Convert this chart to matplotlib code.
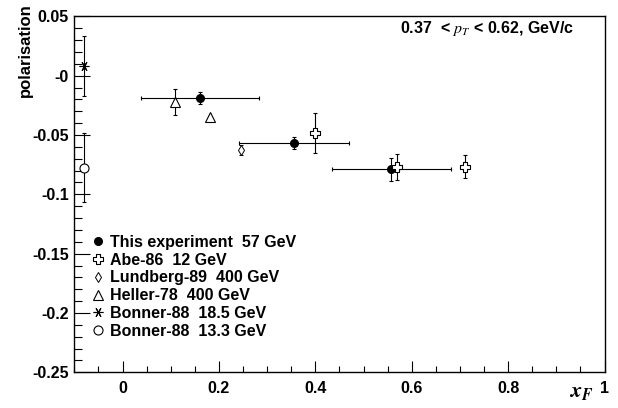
import matplotlib
matplotlib.use("Agg")
import matplotlib.pyplot as plt
from matplotlib.path import Path
from matplotlib.lines import Line2D
from matplotlib.ticker import FixedLocator, MultipleLocator

plt.rcParams['font.family'] = ['Liberation Sans', 'DejaVu Sans']
plt.rcParams['mathtext.fontset'] = 'stix'

# ---- data ----
this_x = [0.161, 0.355, 0.558]
this_y = [-0.019, -0.0565, -0.079]
this_xerr = [0.122, 0.114, 0.124]
this_yerr = [0.005, 0.005, 0.010]

abe_x = [0.400, 0.570, 0.710]
abe_y = [-0.0486, -0.0767, -0.0767]
abe_yerr = [0.017, 0.011, 0.0095]

lund_x = [0.2465]
lund_y = [-0.0627]
lund_yerr = [0.004]

heller_x = [0.109, 0.181]
heller_y = [-0.022, -0.0346]
heller_yerr = [0.011, 0.0]

bon185_x = [-0.08]
bon185_y = [0.0081]
bon185_yerr = [0.0253]

bon133_x = [-0.08]
bon133_y = [-0.0776]
bon133_yerr = [0.029]

labels = ["This experiment  57 GeV", "Abe-86  12 GeV", "Lundberg-89  400 GeV",
          "Heller-78  400 GeV", "Bonner-88  18.5 GeV", "Bonner-88  13.3 GeV"]

xticks = [0, 0.2, 0.4, 0.6, 0.8, 1.0]
xticklabels = ["0", "0.2", "0.4", "0.6", "0.8", "1"]
yticks = [0.05, 0.0, -0.05, -0.1, -0.15, -0.2, -0.25]
yticklabels = ["0.05", "-0", "-0.05", "-0.1", "-0.15", "-0.2", "-0.25"]

# open cross marker
t = 0.32
cross_verts = [(-t, 1), (t, 1), (t, t), (1, t), (1, -t), (t, -t), (t, -1), (-t, -1),
               (-t, -t), (-1, -t), (-1, t), (-t, t), (-t, 1)]
cross = Path(cross_verts, [Path.MOVETO] + [Path.LINETO] * 11 + [Path.CLOSEPOLY])

W, H = 618, 408
fig = plt.figure(figsize=(W / 100, H / 100), dpi=100)
ax = fig.add_axes([74.3 / W, 1 - 372.3 / H, (604.5 - 74.3) / W, (372.3 - 16.3) / H])

eb = dict(ecolor='black', elinewidth=0.8, capsize=1.6, capthick=0.8, linestyle='none', zorder=3)

styles = [
    dict(marker='o', ms=5.5, mfc='black', mec='black'),
    dict(marker=cross, ms=7.5, mfc='white', mec='black', mew=0.8),
    dict(marker='d', ms=5.5, mfc='white', mec='black', mew=0.7),
    dict(marker='^', ms=6.5, mfc='white', mec='black', mew=0.8),
    dict(marker=(6, 2, 90), ms=7, mfc='black', mec='black', mew=0.8),
    dict(marker='o', ms=6.5, mfc='white', mec='black', mew=0.8),
]

ax.errorbar(this_x, this_y, xerr=this_xerr, yerr=this_yerr, **styles[0], **eb)
ax.errorbar(abe_x, abe_y, yerr=abe_yerr, **styles[1], **eb)
ax.errorbar(lund_x, lund_y, yerr=lund_yerr, **styles[2], **eb)
ax.errorbar(heller_x, heller_y, yerr=heller_yerr, **styles[3], **eb)
ax.errorbar(bon185_x, bon185_y, yerr=bon185_yerr, **styles[4], **eb)
ax.errorbar(bon133_x, bon133_y, yerr=bon133_yerr, **styles[5], **eb)

ax.set_xlim(-0.1, 1.0)
ax.set_ylim(-0.25, 0.05)

ax.xaxis.set_major_locator(FixedLocator(xticks))
ax.set_xticklabels(xticklabels)
ax.xaxis.set_minor_locator(MultipleLocator(0.05))
ax.yaxis.set_major_locator(FixedLocator(yticks))
ax.set_yticklabels(yticklabels)
ax.yaxis.set_minor_locator(MultipleLocator(0.01))

ax.tick_params(axis='both', which='both', direction='in', top=False, right=False,
               labelsize=11.5, width=0.8)
ax.tick_params(axis='x', which='major', length=8, pad=6)
ax.tick_params(axis='x', which='minor', length=4)
ax.tick_params(axis='y', which='major', length=11.5, pad=4)
ax.tick_params(axis='y', which='minor', length=5.5)
for lab in ax.get_xticklabels() + ax.get_yticklabels():
    lab.set_fontweight('bold')
for sp in ax.spines.values():
    sp.set_linewidth(1.0)

# legend
handles = [Line2D([], [], linestyle='none', **s) for s in styles]
leg = ax.legend(handles, labels, loc='upper left', bbox_to_anchor=(85 / W, 1 - 227 / H),
                bbox_transform=fig.transFigure, frameon=False, borderpad=0,
                handlelength=0.6, handletextpad=0.45, labelspacing=0.17,
                prop=dict(size=11.5, weight='bold'))

fig.text(25 / W, 1 - 3 / H, "polarisation", rotation=90, ha='center', va='top',
         fontsize=12, fontweight='bold')
fig.text(574 / W, 1 - 28 / H, r"0.37  < $p_T$ < 0.62, GeV/c", ha='right', va='center',
         fontsize=11.5, fontweight='bold')
fig.text(581 / W, 1 - 391 / H, r"$\mathbfit{x_F}$", ha='center', va='center',
         fontsize=16)

fig.savefig("out.png", dpi=100)
